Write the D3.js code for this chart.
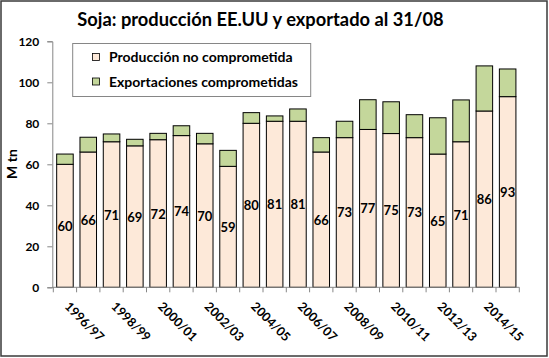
<!DOCTYPE html>
<meta charset="utf-8">
<style>
  body { margin: 0; background: #fff; }
  text { font-family: Lato, "Open Sans", sans-serif; font-weight: bold; }
</style>
<body>
<script src="https://cdn.jsdelivr.net/npm/d3@7"></script>
<script>
  var width = 549, height = 358;

  // campaigns, production not committed and exports committed at 31/08 (M tn)
  var seasons = ["1996/97","1997/98","1998/99","1999/00","2000/01","2001/02","2002/03","2003/04",
    "2004/05","2005/06","2006/07","2007/08","2008/09","2009/10","2010/11","2011/12",
    "2012/13","2013/14","2014/15","2015/16"];
  var produccion = [60, 66, 71, 69, 72, 74, 70, 59, 80, 81, 81, 66, 73, 77, 75, 73, 65, 71, 86, 93];
  var exportaciones = [5, 7.2, 3.8, 3.2, 3.1, 4.8, 5.1, 7.8, 5.2, 2.6, 6, 7, 8, 14.5, 15.5, 11.2, 17.7, 20.4, 22, 13.5];
  var yTicks = [0, 20, 40, 60, 80, 100, 120];
  var seriesNames = ["Producción no comprometida", "Exportaciones comprometidas"];
  var colors = ["#fde9d9", "#c4d79b"];

  var margin = {top: 41.3, left: 52.3, right: 519.3, bottom: 287.3};

  var svg = d3.select("body").append("svg")
    .attr("width", width)
    .attr("height", height);

  // outer frame
  svg.append("rect")
    .attr("x", 1).attr("y", 1)
    .attr("width", width - 3).attr("height", height - 3)
    .attr("fill", "#fff")
    .attr("stroke", "#3a3a3a")
    .attr("stroke-width", 1.5);

  svg.append("text")
    .attr("x", 260.5).attr("y", 26)
    .attr("text-anchor", "middle")
    .style("font-size", "18.3px")
    .text("Soja: producción EE.UU y exportado al 31/08");

  var x = d3.scaleBand()
    .domain(seasons)
    .range([margin.left + 1, margin.right])
    .paddingInner(0.29)
    .paddingOuter(0.145);

  var y = d3.scaleLinear()
    .domain([0, 120])
    .range([margin.bottom, margin.top]);

  var stacked = d3.stack().keys([0, 1])(seasons.map(function(s, i) {
    return {0: produccion[i], 1: exportaciones[i], season: s};
  }));

  svg.selectAll("g.serie")
    .data(stacked)
    .enter().append("g")
    .attr("class", "serie")
    .attr("fill", function(d, i) { return colors[i]; })
    .selectAll("rect")
    .data(function(d) { return d; })
    .enter().append("rect")
    .attr("x", function(d) { return x(d.data.season); })
    .attr("width", x.bandwidth())
    .attr("y", function(d) { return y(d[1]); })
    .attr("height", function(d) { return y(d[0]) - y(d[1]); })
    .attr("stroke", "#000")
    .attr("stroke-width", 1);

  // value labels in the middle of the production segment
  svg.selectAll("text.val")
    .data(produccion)
    .enter().append("text")
    .attr("class", "val")
    .attr("x", function(d, i) { return x(seasons[i]) + x.bandwidth() / 2; })
    .attr("y", function(d) { return y(d / 2) + 5; })
    .attr("text-anchor", "middle")
    .style("font-size", "13px")
    .text(function(d) { return d; });

  // y axis
  var yAxis = svg.append("g")
    .attr("transform", "translate(" + margin.left + ",0)")
    .call(d3.axisLeft(y).tickValues(yTicks).tickSize(5).tickPadding(8));
  yAxis.selectAll("line, path").attr("stroke", "#868686");
  yAxis.selectAll("text").style("font-size", "12px").attr("fill", "#000");

  // x axis: ticks at band boundaries
  var step = x.step();
  var xAxis = svg.append("g");
  xAxis.append("line")
    .attr("x1", margin.left).attr("x2", margin.right)
    .attr("y1", margin.bottom).attr("y2", margin.bottom)
    .attr("stroke", "#868686");
  xAxis.selectAll("line.tk")
    .data(d3.range(seasons.length + 1))
    .enter().append("line")
    .attr("class", "tk")
    .attr("x1", function(i) { return margin.left + 1 + i * step; })
    .attr("x2", function(i) { return margin.left + 1 + i * step; })
    .attr("y1", margin.bottom).attr("y2", margin.bottom + 5)
    .attr("stroke", "#868686");
  xAxis.selectAll("text")
    .data(seasons.filter(function(d, i) { return i % 2 == 0; }))
    .enter().append("text")
    .attr("transform", function(d) {
      return "translate(" + (x(d) + x.bandwidth() / 2 - 1) + "," + (margin.bottom + 20) + ") rotate(45)";
    })
    .style("font-size", "12.5px")
    .text(function(d) { return d; });

  svg.append("text")
    .attr("transform", "translate(17,164) rotate(-90)")
    .attr("text-anchor", "middle")
    .style("font-size", "14px")
    .text("M tn");

  // legend
  var legend = svg.append("g");
  legend.append("rect")
    .attr("x", 72.7).attr("y", 43.5)
    .attr("width", 238).attr("height", 53)
    .attr("fill", "#fff")
    .attr("stroke", "#868686");
  seriesNames.forEach(function(name, i) {
    var ly = 57 + i * 24.5;
    legend.append("rect")
      .attr("x", 92.5).attr("y", ly - 3.5)
      .attr("width", 7).attr("height", 7)
      .attr("fill", colors[i])
      .attr("stroke", "#000")
      .attr("stroke-width", 0.8);
    legend.append("text")
      .attr("x", 109).attr("y", ly + 5)
      .style("font-size", "14px")
      .text(name);
  });
</script>
</body>
